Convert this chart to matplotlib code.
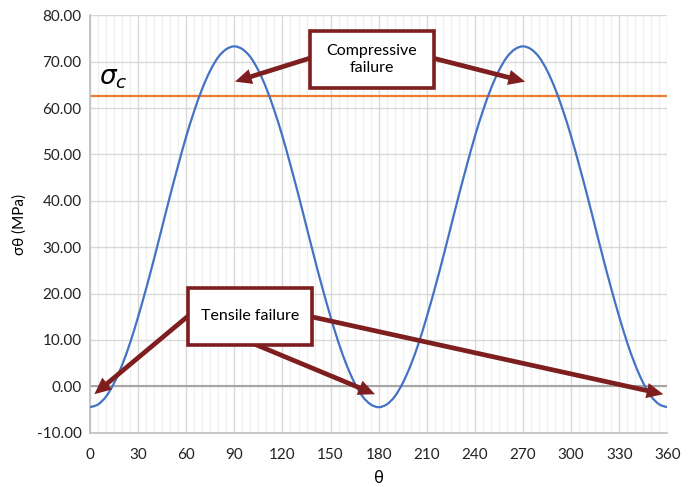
import numpy as np
import matplotlib.pyplot as plt
from matplotlib.patches import Rectangle, PathPatch
from matplotlib.path import Path
from matplotlib.ticker import MultipleLocator

plt.rcParams['font.family'] = ['Lato', 'DejaVu Sans']

# tangential stress around the borehole wall, read every 5 degrees
theta = list(range(0, 365, 5))
sigma_half = [-4.5, -3.9, -2.2, 0.7, 4.6, 9.4, 15.0, 21.1, 27.6, 34.4,
              41.2, 47.7, 53.9, 59.4, 64.2, 68.1, 71.0, 72.7, 73.3,
              72.7, 71.0, 68.1, 64.2, 59.4, 53.9, 47.7, 41.2, 34.4,
              27.6, 21.1, 15.0, 9.4, 4.6, 0.7, -2.2, -3.9]
sigma_theta = sigma_half + sigma_half + [-4.5]
sigma_c = 62.6

xticks = list(range(0, 361, 30))
yticks = list(range(-10, 81, 10))

red = '#7e1e1e'

fig = plt.figure(figsize=(6.99, 4.87), dpi=100)
ax = fig.add_axes([0.1288, 0.1115, 0.8259, 0.8571])

ax.set_xlim(0, 360)
ax.set_ylim(-10, 80)
ax.set_xticks(xticks)
ax.set_yticks(yticks)
ax.set_yticklabels(['%.2f' % v for v in yticks])
ax.xaxis.set_minor_locator(MultipleLocator(5))
ax.grid(which='minor', axis='x', color='#f0f0f0', lw=1)
ax.grid(which='major', axis='x', color='#d9d9d9', lw=1)
ax.grid(which='major', axis='y', color='#d9d9d9', lw=1)
ax.set_axisbelow(True)
ax.tick_params(which='both', length=0, labelsize=11, colors='#222222')
ax.tick_params(axis='x', pad=11)
ax.tick_params(axis='y', pad=6)

for s in ['top', 'right']:
    ax.spines[s].set_visible(False)
for s in ['left', 'bottom']:
    ax.spines[s].set_color('#bfbfbf')
    ax.spines[s].set_linewidth(1.2)

ax.axhline(0, color='#a6a6a6', lw=1.5, zorder=1)
ax.axhline(sigma_c, color='#ed7d31', lw=1.6, zorder=2)

# smoothed line through the points (catmull-rom as cubic bezier)
pts = np.column_stack([theta, sigma_theta]).astype(float)
ext = np.vstack([pts[0], pts, pts[-1]])
verts = [pts[0]]
codes = [Path.MOVETO]
for i in range(1, len(ext) - 2):
    p0, p1, p2, p3 = ext[i - 1], ext[i], ext[i + 1], ext[i + 2]
    verts += [p1 + (p2 - p0) / 6, p2 - (p3 - p1) / 6, p2]
    codes += [Path.CURVE4] * 3
ax.add_patch(PathPatch(Path(verts, codes), fc='none', ec='#4472c4', lw=1.6,
                       zorder=3))

ax.text(5.5, 63.6, r'$\sigma_c$', fontsize=19, ha='left', va='bottom')

ax.set_xlabel('θ', fontsize=12, labelpad=6)
ax.set_ylabel('σθ (MPa)', fontsize=11, labelpad=7)

# annotation boxes
def label_box(x0, x1, y0, y1, txt):
    ax.add_patch(Rectangle((x0, y0), x1 - x0, y1 - y0, fc='white', ec=red,
                           lw=2.6, zorder=6))
    ax.text((x0 + x1) / 2, (y0 + y1) / 2, txt, ha='center', va='center',
            fontsize=11.5, linespacing=1.35, zorder=7)

def arrow(start, tip):
    ax.annotate('', xy=tip, xytext=start, zorder=5,
                arrowprops=dict(arrowstyle='simple,head_length=1.2,head_width=1.1,tail_width=0.34',
                                fc=red, ec='none', lw=0, mutation_scale=10,
                                shrinkA=0, shrinkB=0))

arrow((137.5, 70.8), (90.4, 65.7))
arrow((213.5, 70.8), (271.3, 65.7))
label_box(137.2, 214.5, 64.25, 76.7, 'Compressive\nfailure')

arrow((62, 15.4), (2.7, -1.7))
arrow((99.8, 9.5), (177.7, -1.7))
arrow((138, 15.0), (357.5, -1.7))
label_box(61.1, 138.4, 8.9, 21.3, 'Tensile failure')

fig.savefig('out.png', dpi=100)
